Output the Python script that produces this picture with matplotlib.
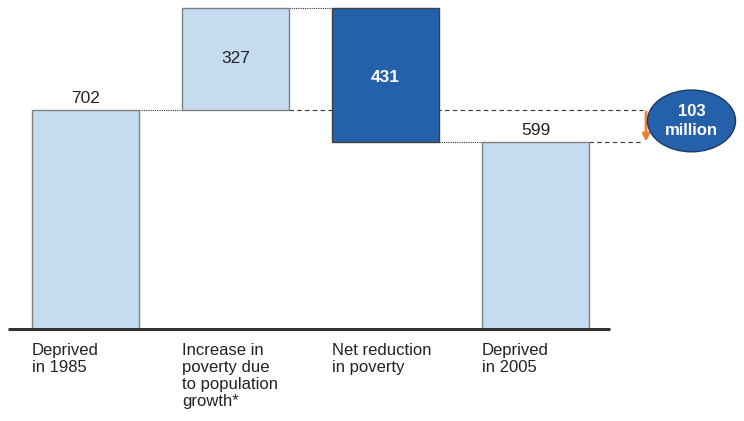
import matplotlib.pyplot as plt
from matplotlib.patches import Ellipse, FancyArrowPatch

plt.rcParams['font.family'] = ['Liberation Sans', 'DejaVu Sans']

categories = ['Deprived\nin 1985', 'Increase in\npoverty due\nto population\ngrowth*',
              'Net reduction\nin poverty', 'Deprived\nin 2005']
start_value = 702
increase = 327
reduction = 431
end_value = 599
gap_label = '103\nmillion'

light = '#C5DCF0'
dark = '#2560AB'
edge = '#7F7F7F'

fig = plt.figure(figsize=(7.44, 4.21), dpi=100)
ax = fig.add_axes([0, 0, 1, 1])
ax.set_xlim(-0.57, 4.39)
ax.set_ylim(-294.9, 1054.6)
ax.axis('off')

w = 0.713
x = [0, 1, 2, 3]
top2 = start_value + increase
bottom3 = top2 - reduction

ax.bar(x[0], start_value, w, color=light, edgecolor=edge, lw=1, zorder=3)
ax.bar(x[1], increase, w, bottom=start_value, color=light, edgecolor=edge, lw=1, zorder=3)
ax.bar(x[2], reduction, w, bottom=bottom3, color=dark, edgecolor='#404040', lw=1, zorder=3)
ax.bar(x[3], end_value, w, color=light, edgecolor=edge, lw=1, zorder=3)

# connector lines
h = w / 2
right_end = (643 - 85.5) / 150
ax.plot([x[0] + h, x[1] - h], [start_value] * 2, color='#333333', lw=0.8, ls=(0, (1, 1)), zorder=2)
ax.plot([x[1] + h, right_end], [start_value] * 2, color='#333333', lw=0.8, ls=(0, (4, 3)), zorder=2)
ax.plot([x[1] + h, x[2] - h], [top2] * 2, color='#333333', lw=0.8, ls=(0, (1, 1)), zorder=2)
ax.plot([x[2] + h, x[3] - h], [end_value] * 2, color='#333333', lw=0.8, ls=(0, (1, 1)), zorder=2)
ax.plot([x[3] + h, right_end], [end_value] * 2, color='#333333', lw=0.8, ls=(0, (4, 3)), zorder=2)

# baseline
ax.plot([-0.517, 3.497], [0, 0], color='#333333', lw=2.2, zorder=4, solid_capstyle='butt')

# value labels
ax.text(x[0], start_value + 12, str(start_value), ha='center', va='bottom', fontsize=12.5, color='#222222')
ax.text(x[1], start_value + increase / 2, str(increase), ha='center', va='center', fontsize=12.5,
        color='#222222', zorder=5)
ax.text(x[2], bottom3 + reduction / 2 - 8, str(reduction), ha='center', va='center', fontsize=12.5,
        color='white', fontweight='bold', zorder=5)
ax.text(x[3], end_value + 12, str(end_value), ha='center', va='bottom', fontsize=12.5, color='#222222')

# category labels
for xi, lab in zip(x, categories):
    ax.text(xi - h, -45, lab, ha='left', va='top', fontsize=12, color='#222222', linespacing=1.17)

# arrow showing the gap
arr = FancyArrowPatch((3.737, start_value - 6), (3.737, end_value + 2), arrowstyle='-|>',
                      mutation_scale=10, color='#F08030', lw=2, shrinkA=0, shrinkB=0, zorder=5)
ax.add_patch(arr)

ell = Ellipse((4.04, 667), 0.587, 198, facecolor=dark, edgecolor='#1A3A6A', lw=1, zorder=5)
ax.add_patch(ell)
ax.text(4.04, 667, gap_label, ha='center', va='center', fontsize=12, color='white',
        fontweight='bold', zorder=6, linespacing=1.3)

fig.savefig('out.png', dpi=100)
